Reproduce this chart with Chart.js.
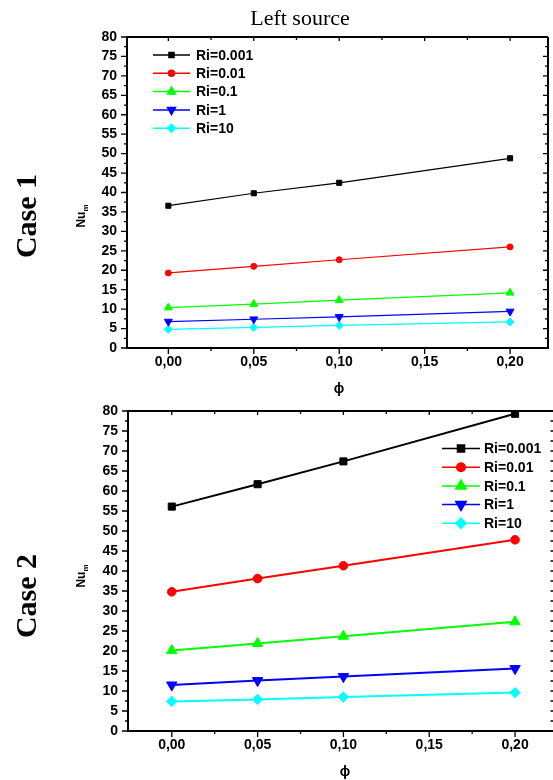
<!DOCTYPE html>
<html>
<head>
<meta charset="utf-8">
<script src="https://cdn.jsdelivr.net/npm/chart.js@4.4.0/dist/chart.umd.min.js"></script>
<style>
  html, body { margin: 0; padding: 0; background: #fff; }
  body { width: 553px; height: 780px; overflow: hidden; position: relative; }
  .box { position: absolute; left: 0; width: 553px; }
  .lbl { position: absolute; white-space: nowrap; color: #000; transform: translate(-50%, -50%); }
  .rot { transform: translate(-50%, -50%) rotate(-90deg); }
  .serif { font-family: "Liberation Serif", "Times New Roman", serif; }
  .sans { font-family: "Liberation Sans", Arial, sans-serif; font-weight: bold; }
  sub { font-size: 8px; vertical-align: -3px; }
</style>
</head>
<body>
<div class="box" style="top:0"><canvas id="case1" width="553" height="400"></canvas></div>
<div class="box" style="top:400px"><canvas id="case2" width="553" height="380"></canvas></div>

<div class="lbl serif" style="left:300px; top:18px; font-size:22px;">Left source</div>
<div class="lbl serif rot" style="left:26px; top:216px; font-size:30px; font-weight:bold;">Case 1</div>
<div class="lbl serif rot" style="left:26px; top:596px; font-size:30px; font-weight:bold;">Case 2</div>
<div class="lbl sans rot" style="left:82px; top:216px; font-size:12px;">Nu<sub>m</sub></div>
<div class="lbl sans rot" style="left:82px; top:576px; font-size:12px;">Nu<sub>m</sub></div>
<div class="lbl sans" style="left:339px; top:388px; font-size:14px;">&#981;</div>
<div class="lbl sans" style="left:345px; top:771px; font-size:14px;">&#981;</div>

<script>
// volume fraction values on the x axis
const phi = [0, 0.05, 0.10, 0.20];
const seriesNames = ["Ri=0.001", "Ri=0.01", "Ri=0.1", "Ri=1", "Ri=10"];

// Case 1 (Nu_m)
const case1Ri0001 = [36.6, 39.8, 42.5, 48.8];
const case1Ri001 = [19.3, 21.0, 22.7, 26.0];
const case1Ri01 = [10.4, 11.3, 12.3, 14.2];
const case1Ri1 = [6.8, 7.4, 8.0, 9.4];
const case1Ri10 = [4.8, 5.3, 5.8, 6.7];

// Case 2 (Nu_m)
const case2Ri0001 = [56.1, 61.7, 67.4, 79.3];
const case2Ri001 = [34.8, 38.1, 41.3, 47.8];
const case2Ri01 = [20.1, 21.9, 23.7, 27.3];
const case2Ri1 = [11.5, 12.6, 13.6, 15.6];
const case2Ri10 = [7.4, 7.9, 8.5, 9.6];

// tick labels
const xTicks = [0, 0.05, 0.10, 0.15, 0.20];
const xMinor = [0.025, 0.075, 0.125, 0.175];
const yTicks = [0, 5, 10, 15, 20, 25, 30, 35, 40, 45, 50, 55, 60, 65, 70, 75, 80];
const yMinor = yTicks.slice(0, -1).map((v) => v + 2.5);

const colors = ["#000000", "#ff0000", "#00ff00", "#0000ff", "#00ffff"];
const styles = ["rect", "circle", "triangle", "triangle", "rectRot"];
const rotations = [0, 0, 0, 180, 0];

Chart.defaults.font.family = '"Liberation Sans", Arial, sans-serif';
Chart.defaults.font.weight = "bold";
Chart.defaults.font.size = 14;
Chart.defaults.color = "#000";

function drawMarker(ctx, style, rotation, radius, x, y) {
  if (Chart.helpers && Chart.helpers.drawPoint) {
    Chart.helpers.drawPoint(ctx, { pointStyle: style, rotation: rotation, radius: radius, borderWidth: 1 }, x, y);
  } else {
    ctx.beginPath();
    ctx.arc(x, y, radius, 0, Math.PI * 2);
    ctx.fill();
  }
}

// axes box, minor ticks and the legend inside the plot
const framePlugin = {
  id: "frame",
  afterDraw(chart, args, opts) {
    const ctx = chart.ctx;
    const a = chart.chartArea;
    const xs = chart.scales.x;
    const ys = chart.scales.y;
    ctx.save();
    ctx.strokeStyle = "#000";
    ctx.lineWidth = 2;
    ctx.beginPath();
    ctx.moveTo(a.right, a.top);
    ctx.lineTo(a.left, a.top);
    ctx.lineTo(a.left, a.bottom);
    ctx.lineTo(a.right, a.bottom);
    if (opts.rightLine) ctx.lineTo(a.right, a.top);
    ctx.stroke();

    ctx.lineWidth = 1.3;
    ctx.beginPath();
    yTicks.forEach((v) => {
      const y = ys.getPixelForValue(v);
      ctx.moveTo(a.left, y); ctx.lineTo(a.left - 6, y);
      ctx.moveTo(a.right, y); ctx.lineTo(a.right - opts.rMajor, y);
    });
    yMinor.forEach((v) => {
      const y = ys.getPixelForValue(v);
      ctx.moveTo(a.left, y); ctx.lineTo(a.left - 3, y);
      ctx.moveTo(a.right, y); ctx.lineTo(a.right - opts.rMinor, y);
    });
    xTicks.forEach((v) => {
      const x = xs.getPixelForValue(v);
      ctx.moveTo(x, a.bottom); ctx.lineTo(x, a.bottom + 6);
      ctx.moveTo(x, a.top); ctx.lineTo(x, a.top + 4);
    });
    xMinor.forEach((v) => {
      const x = xs.getPixelForValue(v);
      ctx.moveTo(x, a.bottom); ctx.lineTo(x, a.bottom + 3);
      ctx.moveTo(x, a.top); ctx.lineTo(x, a.top + 3);
    });
    ctx.stroke();

    // legend
    ctx.font = 'bold 14px "Liberation Sans", Arial, sans-serif';
    ctx.textBaseline = "middle";
    ctx.textAlign = "left";
    chart.data.datasets.forEach((ds, i) => {
      const y = opts.y0 + i * opts.dy;
      ctx.strokeStyle = ds.borderColor;
      ctx.fillStyle = ds.backgroundColor;
      ctx.lineWidth = 1.5;
      ctx.beginPath();
      ctx.moveTo(opts.x1, y);
      ctx.lineTo(opts.x2, y);
      ctx.stroke();
      drawMarker(ctx, ds.pointStyle, ds.pointRotation, ds.pointRadius, opts.mx, y);
      ctx.fillStyle = "#000";
      ctx.fillText(ds.label, opts.tx, y + 1);
    });
    ctx.restore();
  },
};

function makeChart(id, series, o) {
  const datasets = series.map((vals, i) => ({
    label: seriesNames[i],
    data: vals.map((v, j) => ({ x: phi[j], y: v })),
    borderColor: colors[i],
    backgroundColor: colors[i],
    borderWidth: o.lineWidth,
    pointStyle: styles[i],
    pointRotation: rotations[i],
    pointRadius: o.radius[i],
    pointBorderWidth: 1,
    tension: 0,
  }));
  return new Chart(document.getElementById(id), {
    type: "line",
    data: { datasets: datasets },
    options: {
      responsive: false,
      animation: false,
      devicePixelRatio: 1,
      layout: { padding: o.padding, autoPadding: false },
      plugins: {
        legend: { display: false },
        tooltip: { enabled: false },
        frame: o.legend,
      },
      scales: {
        x: {
          type: "linear",
          min: o.xMin,
          max: o.xMax,
          grid: { display: false, drawTicks: false },
          border: { display: false },
          afterBuildTicks: (scale) => { scale.ticks = xTicks.map((v) => ({ value: v })); },
          afterFit: (scale) => {
            scale.height = o.xHeight;
            scale.paddingLeft = 0;
            scale.paddingRight = 0;
          },
          ticks: {
            padding: 6,
            autoSkip: false,
            maxRotation: 0,
            callback: (v) => v.toFixed(2).replace(".", ","),
          },
        },
        y: {
          min: 0,
          max: 80,
          grid: { display: false, drawTicks: false },
          border: { display: false },
          afterBuildTicks: (scale) => { scale.ticks = yTicks.map((v) => ({ value: v })); },
          afterFit: (scale) => {
            scale.width = o.yWidth;
            scale.paddingTop = 0;
            scale.paddingBottom = 0;
          },
          ticks: { padding: 10, autoSkip: false },
        },
      },
    },
    plugins: [framePlugin],
  });
}

makeChart("case1", [case1Ri0001, case1Ri001, case1Ri01, case1Ri1, case1Ri10], {
  padding: { top: 37, right: 5, bottom: 0, left: 0 },
  yWidth: 127,
  xHeight: 52,
  xMin: -0.0242,
  xMax: 0.2222,
  lineWidth: 1.2,
  radius: [3.6, 3, 4.6, 4.6, 4],
  legend: { x1: 153, x2: 190, mx: 171.5, tx: 196, y0: 55, dy: 18.3, rightLine: true, rMajor: 5, rMinor: 3 },
});

makeChart("case2", [case2Ri0001, case2Ri001, case2Ri01, case2Ri1, case2Ri10], {
  padding: { top: 11, right: 0, bottom: 0, left: 0 },
  yWidth: 128,
  xHeight: 49,
  xMin: -0.0255,
  xMax: 0.2221,
  lineWidth: 2,
  radius: [5, 4.3, 6, 6, 5.2],
  legend: { x1: 442, x2: 480, mx: 461, tx: 484, y0: 48.5, dy: 18.7, rightLine: false, rMajor: 2.5, rMinor: 2.5 },
});
</script>
</body>
</html>
